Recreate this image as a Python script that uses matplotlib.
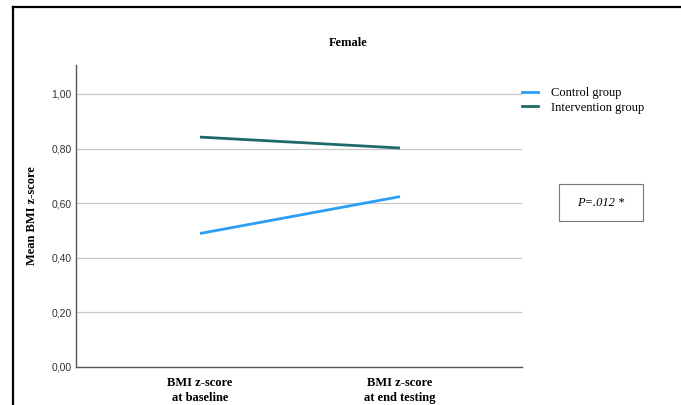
import matplotlib
matplotlib.use('Agg')
import matplotlib.pyplot as plt
from matplotlib.lines import Line2D
from matplotlib.patches import Rectangle

categories = ['BMI z-score\nat baseline', 'BMI z-score\nat end testing']
control = [0.489, 0.624]
intervention = [0.842, 0.802]
yticks = [0.0, 0.2, 0.4, 0.6, 0.8, 1.0]
ytick_labels = ['0,00', '0,20', '0,40', '0,60', '0,80', '1,00']

serif = 'Liberation Serif'
sans = 'Liberation Sans'

fig = plt.figure(figsize=(6.81, 4.05), dpi=100)
ax = fig.add_axes([76/681, 1 - 367/405, (522 - 76)/681, (367 - 65)/405])

x = range(len(categories))
ax.plot(x, control, color='#2b9ef5', lw=2.0, solid_capstyle='butt', zorder=3)
ax.plot(x, intervention, color='#1d6b68', lw=2.0, solid_capstyle='butt', zorder=3)

ax.set_xlim(-0.62, 1.61)
ax.set_ylim(0, 1.106)
ax.set_yticks(yticks)
ax.set_yticklabels(ytick_labels, fontfamily=sans, fontsize=7.5, color='#333333')
ax.set_xticks(list(x))
ax.set_xticklabels(categories, fontfamily=serif, fontweight='bold', fontsize=9,
                   linespacing=1.4)
ax.tick_params(axis='both', length=0)
ax.tick_params(axis='y', pad=3)
ax.tick_params(axis='x', pad=7)
ax.grid(axis='y', color='#c8c8c8', lw=0.9)
ax.set_axisbelow(True)
for s in ['top', 'right']:
    ax.spines[s].set_visible(False)
for s in ['left', 'bottom']:
    ax.spines[s].set_color('#555555')
    ax.spines[s].set_linewidth(1.0)

ax.set_ylabel('Mean BMI z-score', fontfamily=serif, fontweight='bold', fontsize=9, labelpad=10)

fig.text(348/681, 1 - 43/405, 'Female', ha='center', va='center',
         fontfamily=serif, fontweight='bold', fontsize=9)

# legend
handles = [Line2D([], [], color='#2b9ef5', lw=2.0), Line2D([], [], color='#1d6b68', lw=2.0)]
fig.legend(handles, ['Control group', 'Intervention group'], loc='upper left',
           bbox_to_anchor=(522/681, 1 - 87/405), frameon=False,
           prop={'family': serif, 'size': 9}, handlelength=1.3, handletextpad=1.0,
           labelspacing=0.2, borderaxespad=0, borderpad=0)

# p-value box
fig.patches.append(Rectangle((559/681, 1 - 221/405), 84/681, 37/405,
                             transform=fig.transFigure, fill=False,
                             edgecolor='#777777', lw=0.8))
fig.text(601/681, 1 - 203/405, 'P=.012 *', ha='center', va='center',
         fontfamily=serif, fontstyle='italic', fontsize=9)

# outer frame
fig.add_artist(Line2D([13/681, 13/681], [0, 1 - 7/405], transform=fig.transFigure,
                      color='black', lw=1.6))
fig.add_artist(Line2D([13/681, 1], [1 - 7/405, 1 - 7/405], transform=fig.transFigure,
                      color='black', lw=1.6))

fig.savefig('out.png', dpi=100)
